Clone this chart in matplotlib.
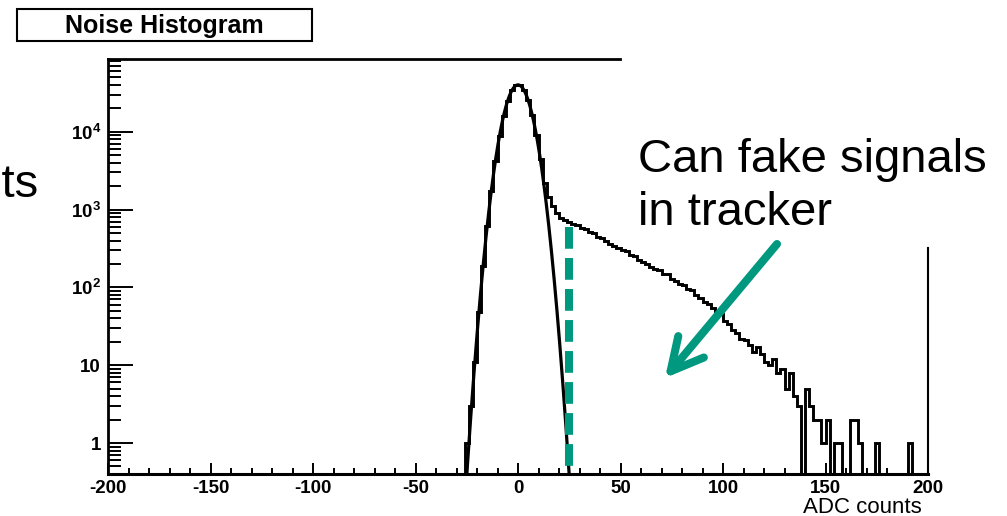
import numpy as np
import matplotlib
matplotlib.use("Agg")
from matplotlib import pyplot as plt
from matplotlib.patches import Rectangle, FancyArrowPatch
from matplotlib.ticker import MultipleLocator, LogLocator, FuncFormatter, NullFormatter

plt.rcParams['font.family'] = ['Liberation Sans', 'DejaVu Sans']
plt.rcParams['mathtext.fontset'] = 'custom'
plt.rcParams['mathtext.rm'] = 'Liberation Sans'
plt.rcParams['mathtext.bf'] = 'Liberation Sans:bold'
plt.rcParams['axes.unicode_minus'] = False

# noise histogram, 2 ADC wide bins starting at -26
BIN_LO = -26
BIN_W = 2
counts = [
    1, 3, 11, 48, 190, 610, 1750, 4200, 8900, 16000, 25000, 34000, 39500,   # -25 .. -1
    39500, 34000, 25200, 16300, 9100, 4500, 2200, 1450, 1100, 900,          # 1 .. 19
    790, 730, 690, 660, 625, 585, 560, 520, 495, 450,                       # 21 .. 39
    435, 400, 365, 345, 320, 305, 290, 262, 255, 228,                       # 41 .. 59
    212, 200, 182, 172, 165, 148, 150, 130, 122, 110,                       # 61 .. 79
    106, 96, 93, 80, 74, 64, 62, 54, 47, 45,                                # 81 .. 99
    37, 34, 28, 26, 22, 21, 18, 15, 17, 14,                                 # 101 .. 119
    11, 10, 12, 8, 9, 5, 8, 4, 3, 0,                                        # 121 .. 139
    5, 3, 2, 2, 1, 2, 0, 1, 1, 0,                                           # 141 .. 159
    0, 2, 2, 1, 0, 0, 0, 1, 0, 0,                                           # 161 .. 179
    0, 0, 0, 0, 0, 1, 0, 0, 0, 0,                                           # 181 .. 199
]

# gaussian fit to the pedestal
FIT_CONST = 40000
FIT_MEAN = 0.0
FIT_SIGMA = 5.2

CUT = 25          # threshold marked with the dashed line
CUT_TOP = 590

x_ticks = [-200, -150, -100, -50, 0, 50, 100, 150, 200]
y_ticks = [1, 10, 100, 1000, 10000]
y_labels = ['1', '10', r'$\mathbf{10^{2}}$', r'$\mathbf{10^{3}}$', r'$\mathbf{10^{4}}$']

TEAL = '#00987E'
W, H = 1007, 516


def fx(px):
    return px / W


def fy(py):
    return 1 - py / H


fig = plt.figure(figsize=(W / 100, H / 100), dpi=100)
ax = fig.add_axes([fx(108), fy(474), 820 / W, 415 / H])

counts = np.array(counts, dtype=float)
edges = BIN_LO + BIN_W * np.arange(len(counts) + 1)
ymin, ymax = 0.4, 8.6e4

xf = np.linspace(-30, 30, 601)
yf = FIT_CONST * np.exp(-0.5 * ((xf - FIT_MEAN) / FIT_SIGMA) ** 2)
ax.plot(xf, yf, color='black', lw=2.3)

# empty bins drop below the log axis
ax.stairs(np.where(counts > 0, counts, 1e-3), edges, baseline=1e-3,
          color='black', lw=2.1)

ax.plot([CUT, CUT], [CUT_TOP, ymin], color=TEAL, lw=5.8,
        linestyle=(0, (2.7, 1.15)), solid_capstyle='butt')

ax.set_yscale('log')
ax.set_xlim(-200, 200)
ax.set_ylim(ymin, ymax)

ax.xaxis.set_minor_locator(MultipleLocator(10))
ax.set_xticks(x_ticks)
ax.yaxis.set_minor_locator(LogLocator(base=10, subs=np.arange(2, 10), numticks=20))
ax.set_yticks(y_ticks)
ax.yaxis.set_major_formatter(FuncFormatter(lambda v, p: y_labels[y_ticks.index(round(v))] if round(v) in y_ticks else ''))
ax.yaxis.set_minor_formatter(NullFormatter())
ax.set_ylim(ymin, ymax)

ax.tick_params(axis='x', which='major', direction='in', length=8, width=1.4, pad=4, labelsize=13.5)
ax.tick_params(axis='x', which='minor', direction='in', length=4.5, width=1.4)
ax.tick_params(axis='y', which='major', direction='in', length=18, width=1.4, pad=5, labelsize=13.5)
ax.tick_params(axis='y', which='minor', direction='in', length=9, width=1.4)
for lab in ax.get_xticklabels() + ax.get_yticklabels():
    lab.set_fontweight('bold')

ax.spines['top'].set_visible(False)
ax.spines['right'].set_visible(False)
ax.spines['left'].set_linewidth(2)
ax.spines['bottom'].set_linewidth(2.2)
# only part of the frame is left showing next to the caption
ax.plot([0, (620 - 108) / 820], [1, 1], transform=ax.transAxes, color='black', lw=2, clip_on=False)
ax.plot([1, 1], [0, (474 - 248) / 415], transform=ax.transAxes, color='black', lw=1.5, clip_on=False)

# title box
fig.patches.append(Rectangle((fx(17), fy(41)), 295 / W, 32 / H, transform=fig.transFigure,
                             facecolor='white', edgecolor='black', lw=1.5))
fig.text(fx(164), fy(26), 'Noise Histogram', ha='center', va='center',
         fontsize=18, fontweight='bold')

fig.text(fx(38), fy(197), 'counts', ha='right', va='baseline', fontsize=34)
fig.text(fx(638), fy(172), 'Can fake signals', ha='left', va='baseline', fontsize=34)
fig.text(fx(638), fy(225), 'in tracker', ha='left', va='baseline', fontsize=34)
fig.text(fx(922), fy(513), 'ADC counts', ha='right', va='baseline', fontsize=16)

arrow = FancyArrowPatch((fx(777), fy(244)), (fx(665), fy(378)), transform=fig.transFigure,
                        arrowstyle='->,head_length=23,head_width=12', mutation_scale=1,
                        lw=5.8, color=TEAL, capstyle='round', joinstyle='round',
                        shrinkA=0, shrinkB=0)
fig.patches.append(arrow)

fig.savefig('out.png', dpi=100)
